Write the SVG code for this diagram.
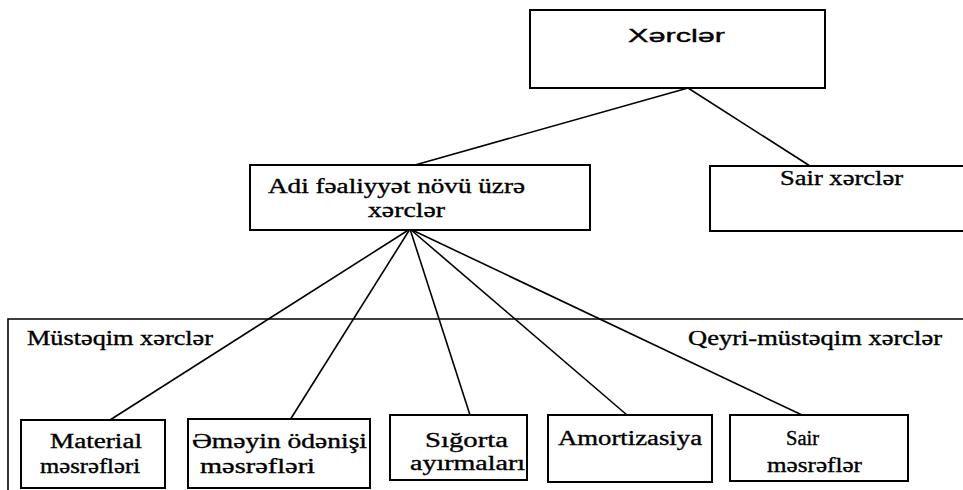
<svg xmlns="http://www.w3.org/2000/svg" width="963" height="490" viewBox="0 0 963 490">
  <style>
    .box { fill: #fff; stroke: #000; stroke-width: 2; }
    .edge { fill: none; stroke: #000; stroke-width: 1.6; }
    .frame { fill: none; stroke: #000; stroke-width: 1.6; }
    text { font-family: "Liberation Serif", "DejaVu Serif", serif; font-size: 20px; fill: #000; stroke: #000; stroke-width: 0.35; }
    .sans { font-family: "Liberation Sans", "DejaVu Sans", sans-serif; font-size: 18px; }
  </style>
  <rect width="963" height="490" fill="#fff"/>

  <!-- Group frame: direct / indirect costs -->
  <g id="cost-frame">
    <polyline class="frame" points="963,319 8,319 8,490"/>
    <text x="27" y="345" textLength="186" lengthAdjust="spacingAndGlyphs">Müstəqim xərclər</text>
    <text x="688" y="345" textLength="254" lengthAdjust="spacingAndGlyphs">Qeyri-müstəqim xərclər</text>
  </g>

  <!-- Connectors -->
  <g id="connectors">
    <line class="edge" x1="688" y1="88" x2="415" y2="165"/>
    <line class="edge" x1="688" y1="88" x2="810" y2="166"/>
    <line class="edge" x1="410" y1="229" x2="110" y2="420"/>
    <line class="edge" x1="410" y1="229" x2="290" y2="420"/>
    <line class="edge" x1="410" y1="229" x2="470" y2="415"/>
    <line class="edge" x1="410" y1="229" x2="627" y2="415"/>
    <line class="edge" x1="410" y1="229" x2="802" y2="415"/>
  </g>

  <g id="xerclar">
    <rect class="box" x="530" y="10" width="295" height="78"/>
    <text class="sans" x="628" y="42" textLength="97" lengthAdjust="spacingAndGlyphs">Xərclər</text>
  </g>

  <g id="adi-faaliyyet">
    <rect class="box" x="250" y="165" width="340" height="65"/>
    <text x="268" y="193" textLength="257" lengthAdjust="spacingAndGlyphs">Adi fəaliyyət növü üzrə</text>
    <text x="368" y="217" textLength="77" lengthAdjust="spacingAndGlyphs">xərclər</text>
  </g>

  <g id="sair-xerclar">
    <rect class="box" x="710" y="166" width="262" height="65"/>
    <text x="780" y="185" textLength="123" lengthAdjust="spacingAndGlyphs">Sair xərclər</text>
  </g>

  <g id="material">
    <rect class="box" x="21" y="420" width="144" height="68"/>
    <text x="50" y="448" textLength="92" lengthAdjust="spacingAndGlyphs">Material</text>
    <text x="40" y="473" textLength="100" lengthAdjust="spacingAndGlyphs">məsrəfləri</text>
  </g>

  <g id="emeyin">
    <rect class="box" x="188" y="419" width="182" height="69"/>
    <text x="192" y="448" textLength="175" lengthAdjust="spacingAndGlyphs">Əməyin ödənişi</text>
    <text x="200" y="473" textLength="115" lengthAdjust="spacingAndGlyphs">məsrəfləri</text>
  </g>

  <g id="sigorta">
    <rect class="box" x="390" y="415" width="137" height="65"/>
    <text x="425" y="447" textLength="83" lengthAdjust="spacingAndGlyphs">Sığorta</text>
    <text x="410" y="470" textLength="115" lengthAdjust="spacingAndGlyphs">ayırmaları</text>
  </g>

  <g id="amortizasiya">
    <rect class="box" x="548" y="415" width="164" height="67"/>
    <text x="558" y="445" textLength="144" lengthAdjust="spacingAndGlyphs">Amortizasiya</text>
  </g>

  <g id="sair-mesreflar">
    <rect class="box" x="730" y="415" width="178" height="66"/>
    <text x="786" y="445" textLength="33" lengthAdjust="spacingAndGlyphs">Sair</text>
    <text x="767" y="472" textLength="95" lengthAdjust="spacingAndGlyphs">məsrəflər</text>
  </g>
</svg>
